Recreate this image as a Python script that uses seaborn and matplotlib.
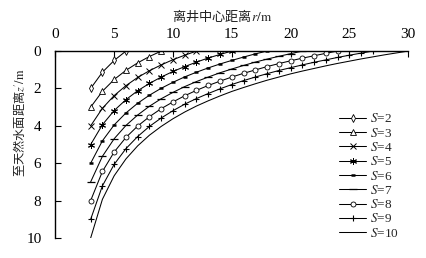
import numpy as np
import pandas as pd
import matplotlib
matplotlib.use("Agg")
import matplotlib.pyplot as plt
import seaborn as sns

# distance from well centre r (m) start at 3 and step by 1 up to 3*S
s_values = [2, 3, 4, 5, 6, 7, 8, 9, 10]
z_s2 = [2, 1.13, 0.50, 0]
z_s3 = [3, 2.15, 1.52, 1.03, 0.63, 0.29, 0]
z_s4 = [4, 3.06, 2.38, 1.85, 1.41, 1.05, 0.74, 0.46, 0.22, 0]
z_s5 = [5, 3.94, 3.18, 2.60, 2.12, 1.73, 1.39, 1.09, 0.83, 0.59, 0.37, 0.18, 0]
z_s6 = [6, 4.80, 3.95, 3.31, 2.79, 2.36, 1.99, 1.67, 1.38, 1.13, 0.90, 0.69,
        0.50, 0.32, 0.15, 0]
z_s7 = [7, 5.63, 4.69, 3.98, 3.42, 2.95, 2.55, 2.21, 1.90, 1.63, 1.39, 1.16,
        0.96, 0.77, 0.59, 0.43, 0.28, 0.14, 0]
z_s8 = [8, 6.44, 5.40, 4.62, 4.01, 3.51, 3.08, 2.72, 2.39, 2.10, 1.84, 1.61,
        1.39, 1.19, 1.01, 0.83, 0.67, 0.52, 0.38, 0.25, 0.12, 0]
z_s9 = [9, 7.21, 6.06, 5.22, 4.57, 4.03, 3.58, 3.19, 2.84, 2.54, 2.27, 2.02,
        1.79, 1.58, 1.39, 1.21, 1.04, 0.89, 0.74, 0.60, 0.47, 0.34, 0.22, 0.11, 0]
z_s10 = [10, 7.93, 6.67, 5.77, 5.07, 4.50, 4.03, 3.62, 3.26, 2.94, 2.66, 2.40,
         2.16, 1.95, 1.75, 1.56, 1.39, 1.22, 1.07, 0.93, 0.79, 0.66, 0.54, 0.42,
         0.31, 0.20, 0.10, 0]
z_lists = [z_s2, z_s3, z_s4, z_s5, z_s6, z_s7, z_s8, z_s9, z_s10]
r_start = 3

x_ticks = [0, 5, 10, 15, 20, 25, 30]
y_ticks = [0, 2, 4, 6, 8, 10]
x_label = "离井中心距离$r/\\mathrm{m}$"
y_label = "至天然水面距离$z'/\\mathrm{m}$"

sns.set_theme()
sns.set_style("ticks")
plt.rcParams['font.family'] = ['Liberation Serif', 'Noto Sans CJK SC', 'DejaVu Sans']
plt.rcParams['mathtext.fontset'] = 'stix'

styles = {
    2: dict(marker='d', markersize=3.6, markerfacecolor='white', markeredgewidth=0.6),
    3: dict(marker='^', markersize=4.0, markerfacecolor='white', markeredgewidth=0.6),
    4: dict(marker='x', markersize=4.0, markeredgewidth=0.7),
    5: dict(marker=(6, 2, 0), markersize=5, markeredgewidth=0.7),
    6: dict(marker='_', markersize=3.2, markeredgewidth=1.8),
    7: dict(marker='_', markersize=5.5, markeredgewidth=0.9),
    8: dict(marker='o', markersize=3.6, markerfacecolor='white', markeredgewidth=0.6),
    9: dict(marker='+', markersize=5, markeredgewidth=0.8),
    10: dict(marker=None),
}

fig = plt.figure(figsize=(4.26, 2.58), dpi=100)
ax = fig.add_axes([0.130, 0.0775, 0.828, 0.7245])

for s, z in zip(s_values, z_lists):
    r = np.arange(r_start, r_start + len(z))
    df = pd.DataFrame({'r': r, 'z': z})
    st = styles[s]
    sns.lineplot(data=df, x='r', y='z', ax=ax, color='black', linewidth=0.75,
                 markeredgecolor='black', label=f"$S$={s}", **st)

ax.set_xlim(0, 30)
ax.set_ylim(10, 0)
ax.set_xticks(x_ticks)
ax.set_yticks(y_ticks)
ax.xaxis.tick_top()
ax.xaxis.set_label_position('top')
for sp in ['right', 'bottom']:
    ax.spines[sp].set_visible(False)
for sp in ['left', 'top']:
    ax.spines[sp].set_color('black')
    ax.spines[sp].set_linewidth(1.0)
ax.tick_params(axis='x', direction='in', length=4, width=0.8, pad=7.5,
               labelsize=11, colors='black')
ax.tick_params(axis='y', direction='in', length=4, width=0.8, pad=10,
               labelsize=11, colors='black')
ax.set_xlabel(x_label, family='Noto Sans CJK SC', fontsize=9.5, color='#222222')
ax.set_ylabel(y_label, family='Noto Sans CJK SC', fontsize=8.8, color='#222222')
ax.xaxis.set_label_coords(0.472, 1.16)
ax.yaxis.set_label_coords(-0.081, 0.62)

leg = ax.legend(loc='upper left', bbox_to_anchor=(0.795, 0.565),
                bbox_transform=fig.transFigure, frameon=False,
                prop={'family': 'Liberation Serif', 'size': 9.5},
                handlelength=2.1, handletextpad=0.3, labelspacing=0.1,
                borderpad=0, borderaxespad=0)

fig.savefig('out.png', dpi=100)
